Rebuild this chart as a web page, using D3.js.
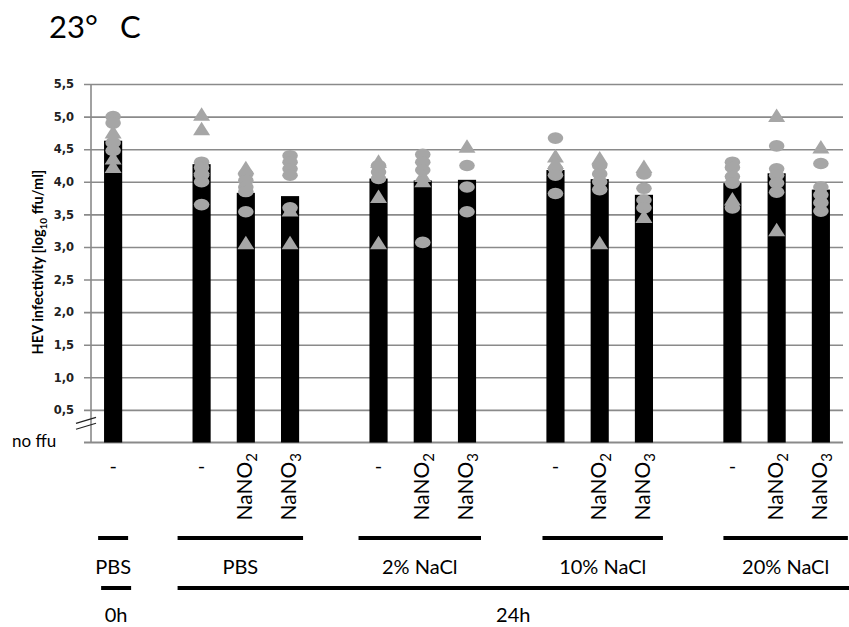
<!DOCTYPE html>
<html>
<head>
<meta charset="utf-8">
<style>
  body { margin: 0; background: #fff; }
  svg text { font-family: Lato, "Open Sans", sans-serif; fill: #000; }
  .ytick text { font-family: "DejaVu Sans", sans-serif; font-weight: bold; font-size: 11.5px; fill: #222; }
</style>
</head>
<body>
<div id="chart"></div>
<script src="https://d3js.org/d3.v7.min.js"></script>
<script>
// bars: 0h PBS control, then 24h groups x treatments
const barGroups = ["0h PBS", "PBS", "PBS", "PBS", "2% NaCl", "2% NaCl", "2% NaCl",
  "10% NaCl", "10% NaCl", "10% NaCl", "20% NaCl", "20% NaCl", "20% NaCl"];
const barTreatments = ["-", "-", "NaNO2", "NaNO3", "-", "NaNO2", "NaNO3",
  "-", "NaNO2", "NaNO3", "-", "NaNO2", "NaNO3"];
const barMeans = [4.63, 4.27, 3.83, 3.78, 4.05, 4.02, 4.03, 4.18, 4.04, 3.80, 3.98, 4.13, 3.88];

// individual replicates (two experiment types: circles and triangles)
const circleValues = [
  [5.0, 4.9, 4.6, 4.48],
  [4.3, 4.22, 4.1, 4.0, 3.65],
  [4.12, 4.02, 3.92, 3.85, 3.54],
  [4.4, 4.3, 4.2, 4.1, 3.6],
  [4.25, 4.15, 4.05],
  [4.42, 4.3, 4.18, 3.07],
  [4.25, 3.92, 3.54],
  [4.67, 4.2, 4.1, 3.82],
  [4.25, 4.12, 4.0, 3.88],
  [4.12, 3.9, 3.72, 3.6],
  [4.3, 4.22, 4.08, 3.98, 3.6],
  [4.55, 4.2, 4.1, 3.98, 3.84],
  [4.28, 3.92, 3.8, 3.68, 3.55]
];
const triangleValues = [
  [4.75, 4.35, 4.22],
  [5.02, 4.8, 4.2],
  [4.2, 3.05],
  [3.55, 3.05],
  [4.3, 3.76, 3.05],
  [4.08, 4.0],
  [4.53],
  [4.38, 4.28],
  [4.35, 3.05],
  [4.22, 3.45],
  [3.72],
  [5.0, 3.25],
  [4.52]
];

const yTicks = [0.5, 1.0, 1.5, 2.0, 2.5, 3.0, 3.5, 4.0, 4.5, 5.0, 5.5];
const zeroLabel = "no ffu";
const groupLabels = ["PBS", "PBS", "2% NaCl", "10% NaCl", "20% NaCl"];
const groupKeys = ["0h PBS", "PBS", "2% NaCl", "10% NaCl", "20% NaCl"];
const timeLabels = ["0h", "24h"];
const timeGroups = [["0h PBS"], ["PBS", "2% NaCl", "10% NaCl", "20% NaCl"]];

const width = 849, height = 627;
const svg = d3.select("#chart").append("svg")
  .attr("width", width).attr("height", height);

// slots: bars plus empty spacer slots between groups
const slots = [];
barGroups.forEach((g, i) => {
  if (i > 0 && g !== barGroups[i - 1]) slots.push("gap" + i);
  slots.push("bar" + i);
});

const x = d3.scaleBand().domain(slots).range([91, 843])
  .paddingInner(0.59).paddingOuter(0.295);
const y = d3.scaleLinear().domain([0, 5.5]).range([442.5, 84]);
const cx = i => x("bar" + i) + x.bandwidth() / 2;

const locale = d3.formatLocale({ decimal: ",", thousands: ".", grouping: [3], currency: ["", ""] });
const fmt = locale.format(".1f");

// gridlines + tick labels
const yAxis = svg.append("g").attr("class", "ytick")
  .attr("transform", "translate(84,0)")
  .call(d3.axisLeft(y).tickValues(yTicks).tickFormat(fmt).tickSize(-(843 - 84)).tickPadding(10));
yAxis.select(".domain").remove();
yAxis.selectAll("line").attr("stroke", "#8a8a8a").attr("stroke-width", 1.6);

// baseline and vertical axis
svg.append("line").attr("x1", 84).attr("x2", 843).attr("y1", y(0)).attr("y2", y(0))
  .attr("stroke", "#8a8a8a").attr("stroke-width", 1.8);
svg.append("line").attr("x1", 91).attr("x2", 91).attr("y1", y(5.5)).attr("y2", y(0))
  .attr("stroke", "#8a8a8a").attr("stroke-width", 1.6);

// axis break marks
[0.34, 0.25].forEach(v => {
  svg.append("line").attr("x1", 76).attr("x2", 96)
    .attr("y1", y(v) + 3).attr("y2", y(v) - 3)
    .attr("stroke", "#222").attr("stroke-width", 1.2);
});

svg.append("text").attr("x", 12).attr("y", y(0) + 4)
  .attr("font-size", 17).text(zeroLabel);

// bars
svg.append("g").selectAll("rect").data(barMeans).join("rect")
  .attr("x", (d, i) => x("bar" + i))
  .attr("width", x.bandwidth())
  .attr("y", d => y(d))
  .attr("height", d => y(0) - y(d))
  .attr("fill", "#000");

// replicate points
const pts = svg.append("g").attr("fill", "#a6a6a6");
circleValues.forEach((vals, i) => {
  vals.forEach(v => {
    pts.append("ellipse").attr("cx", cx(i)).attr("cy", y(v)).attr("rx", 7.8).attr("ry", 5.8);
  });
});
triangleValues.forEach((vals, i) => {
  vals.forEach(v => {
    const px = cx(i), py = y(v);
    pts.append("path")
      .attr("d", `M${px},${py - 8}L${px + 8.5},${py + 5.5}L${px - 8.5},${py + 5.5}Z`);
  });
});

// y axis title
const yt = svg.append("text")
  .attr("transform", "translate(43,262) rotate(-90)")
  .attr("text-anchor", "middle").attr("font-weight", "bold").attr("font-size", 14.5);
yt.append("tspan").text("HEV infectivity [log");
yt.append("tspan").attr("font-size", 10).attr("dy", 4).text("10");
yt.append("tspan").attr("dy", -4).text(" ffu/ml]");

// treatment labels
barTreatments.forEach((t, i) => {
  if (t === "-") {
    svg.append("text").attr("x", cx(i)).attr("y", 473)
      .attr("text-anchor", "middle").attr("font-size", 20).text("-");
  } else {
    const m = t.match(/^(\D+)(\d+)$/);
    const tx = svg.append("text")
      .attr("transform", `translate(${cx(i) + 6},453) rotate(-90)`)
      .attr("text-anchor", "end").attr("font-size", 21);
    tx.append("tspan").text(m[1]);
    tx.append("tspan").attr("font-size", 15).attr("dy", 5).text(m[2]);
  }
});

// group brackets and labels
const bracketPad = [[15, 15], [24, 13], [20, 14], [13, 19], [9, 27]];
groupKeys.forEach((g, k) => {
  const idx = barGroups.map((b, i) => b === g ? i : -1).filter(i => i >= 0);
  const x1 = cx(idx[0]) - bracketPad[k][0];
  const x2 = Math.min(width, cx(idx[idx.length - 1]) + bracketPad[k][1]);
  svg.append("line").attr("x1", x1).attr("x2", x2).attr("y1", 538).attr("y2", 538)
    .attr("stroke", "#000").attr("stroke-width", 4);
  svg.append("text").attr("x", (x1 + x2) / 2).attr("y", 574)
    .attr("text-anchor", "middle").attr("font-size", 20).text(groupLabels[k]);
});

// time brackets and labels
const timePad = [[12, 18], [24, 40]];
timeGroups.forEach((gs, k) => {
  const idx = barGroups.map((b, i) => gs.includes(b) ? i : -1).filter(i => i >= 0);
  const x1 = cx(idx[0]) - timePad[k][0];
  const x2 = Math.min(width, cx(idx[idx.length - 1]) + timePad[k][1]);
  svg.append("line").attr("x1", x1).attr("x2", x2).attr("y1", 588).attr("y2", 588)
    .attr("stroke", "#000").attr("stroke-width", 4);
  svg.append("text").attr("x", (x1 + x2) / 2).attr("y", 622)
    .attr("text-anchor", "middle").attr("font-size", 20).text(timeLabels[k]);
});

// title
const title = svg.append("text").attr("x", 49).attr("y", 38).attr("font-size", 31);
title.append("tspan").text("23°");
title.append("tspan").attr("x", 120).text("C");
</script>
</body>
</html>
